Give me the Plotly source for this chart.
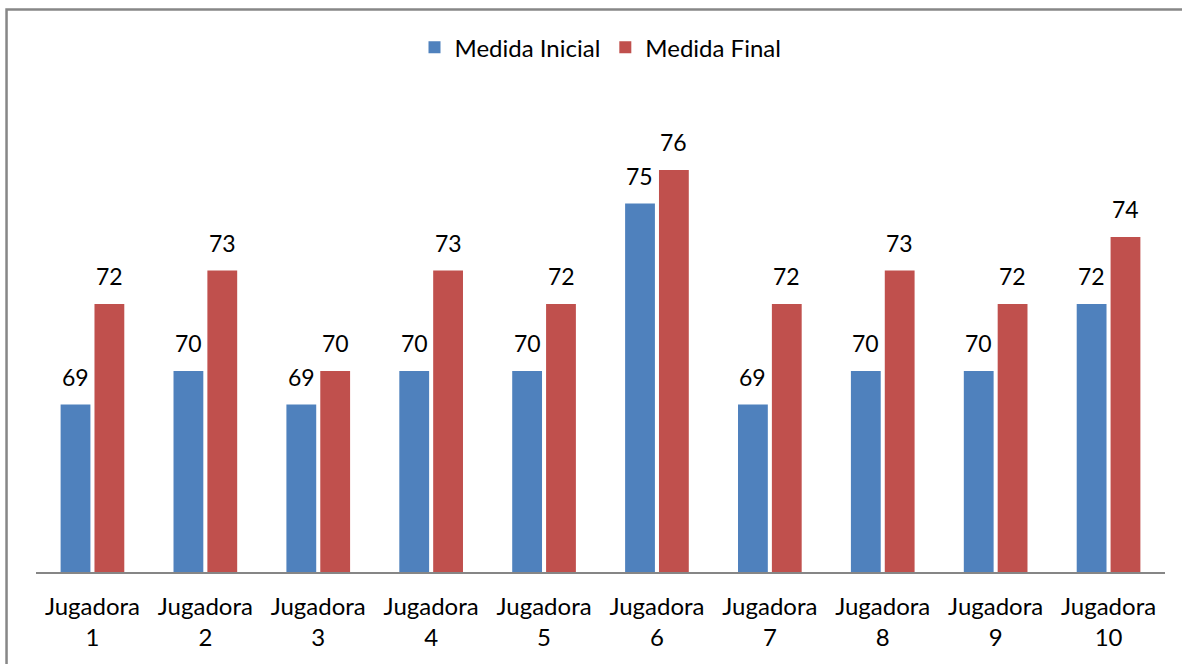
import plotly.graph_objects as go

categories = ["Jugadora<br>1", "Jugadora<br>2", "Jugadora<br>3", "Jugadora<br>4", "Jugadora<br>5",
              "Jugadora<br>6", "Jugadora<br>7", "Jugadora<br>8", "Jugadora<br>9", "Jugadora<br>10"]
medida_inicial = [69, 70, 69, 70, 70, 75, 69, 70, 70, 72]
medida_final = [72, 73, 70, 73, 72, 76, 72, 73, 72, 74]

FONT = "Lato, Calibri, sans-serif"
FS = 24

fig = go.Figure()
fig.add_trace(go.Bar(x=categories, y=medida_inicial, name="Medida Inicial",
                     marker=dict(color="#4F81BD", line=dict(width=0))))
fig.add_trace(go.Bar(x=categories, y=medida_final, name="Medida Final",
                     marker=dict(color="#C0504D", line=dict(width=0))))

for series, shift in ((medida_inicial, -17), (medida_final, 17)):
    for c, v in zip(categories, series):
        fig.add_annotation(x=c, y=v, text=str(v), showarrow=False,
                           xshift=shift, yshift=28, yanchor="middle",
                           font=dict(size=FS - 1, color="#000000", family=FONT))

fig.update_layout(
    width=1182, height=664,
    margin=dict(l=36, r=17, t=103, b=92),
    paper_bgcolor="white", plot_bgcolor="white",
    barmode="group", bargap=0.4, bargroupgap=0.12,
    font=dict(family=FONT, size=FS, color="#000000"),
    showlegend=True,
    legend=dict(orientation="h", x=0.5, xanchor="center", y=1.118, yanchor="middle",
                font=dict(size=FS, family=FONT), traceorder="normal"),
    xaxis=dict(showline=True, linecolor="#868686", linewidth=1.5, showgrid=False,
               ticks="", tickfont=dict(size=FS, family=FONT), ticklabelstandoff=12),
    yaxis=dict(visible=False, range=[64, 78]),
)

fig.add_shape(type="path", xref="paper", yref="paper",
              path="M -0.0261,-0.3 L -0.0261,1.1994 L 1.1,1.1994",
              line=dict(color="#878787", width=2.5))

fig.write_html("out.html", config={"displayModeBar": False},
               post_script="document.body.style.margin='0px';")
